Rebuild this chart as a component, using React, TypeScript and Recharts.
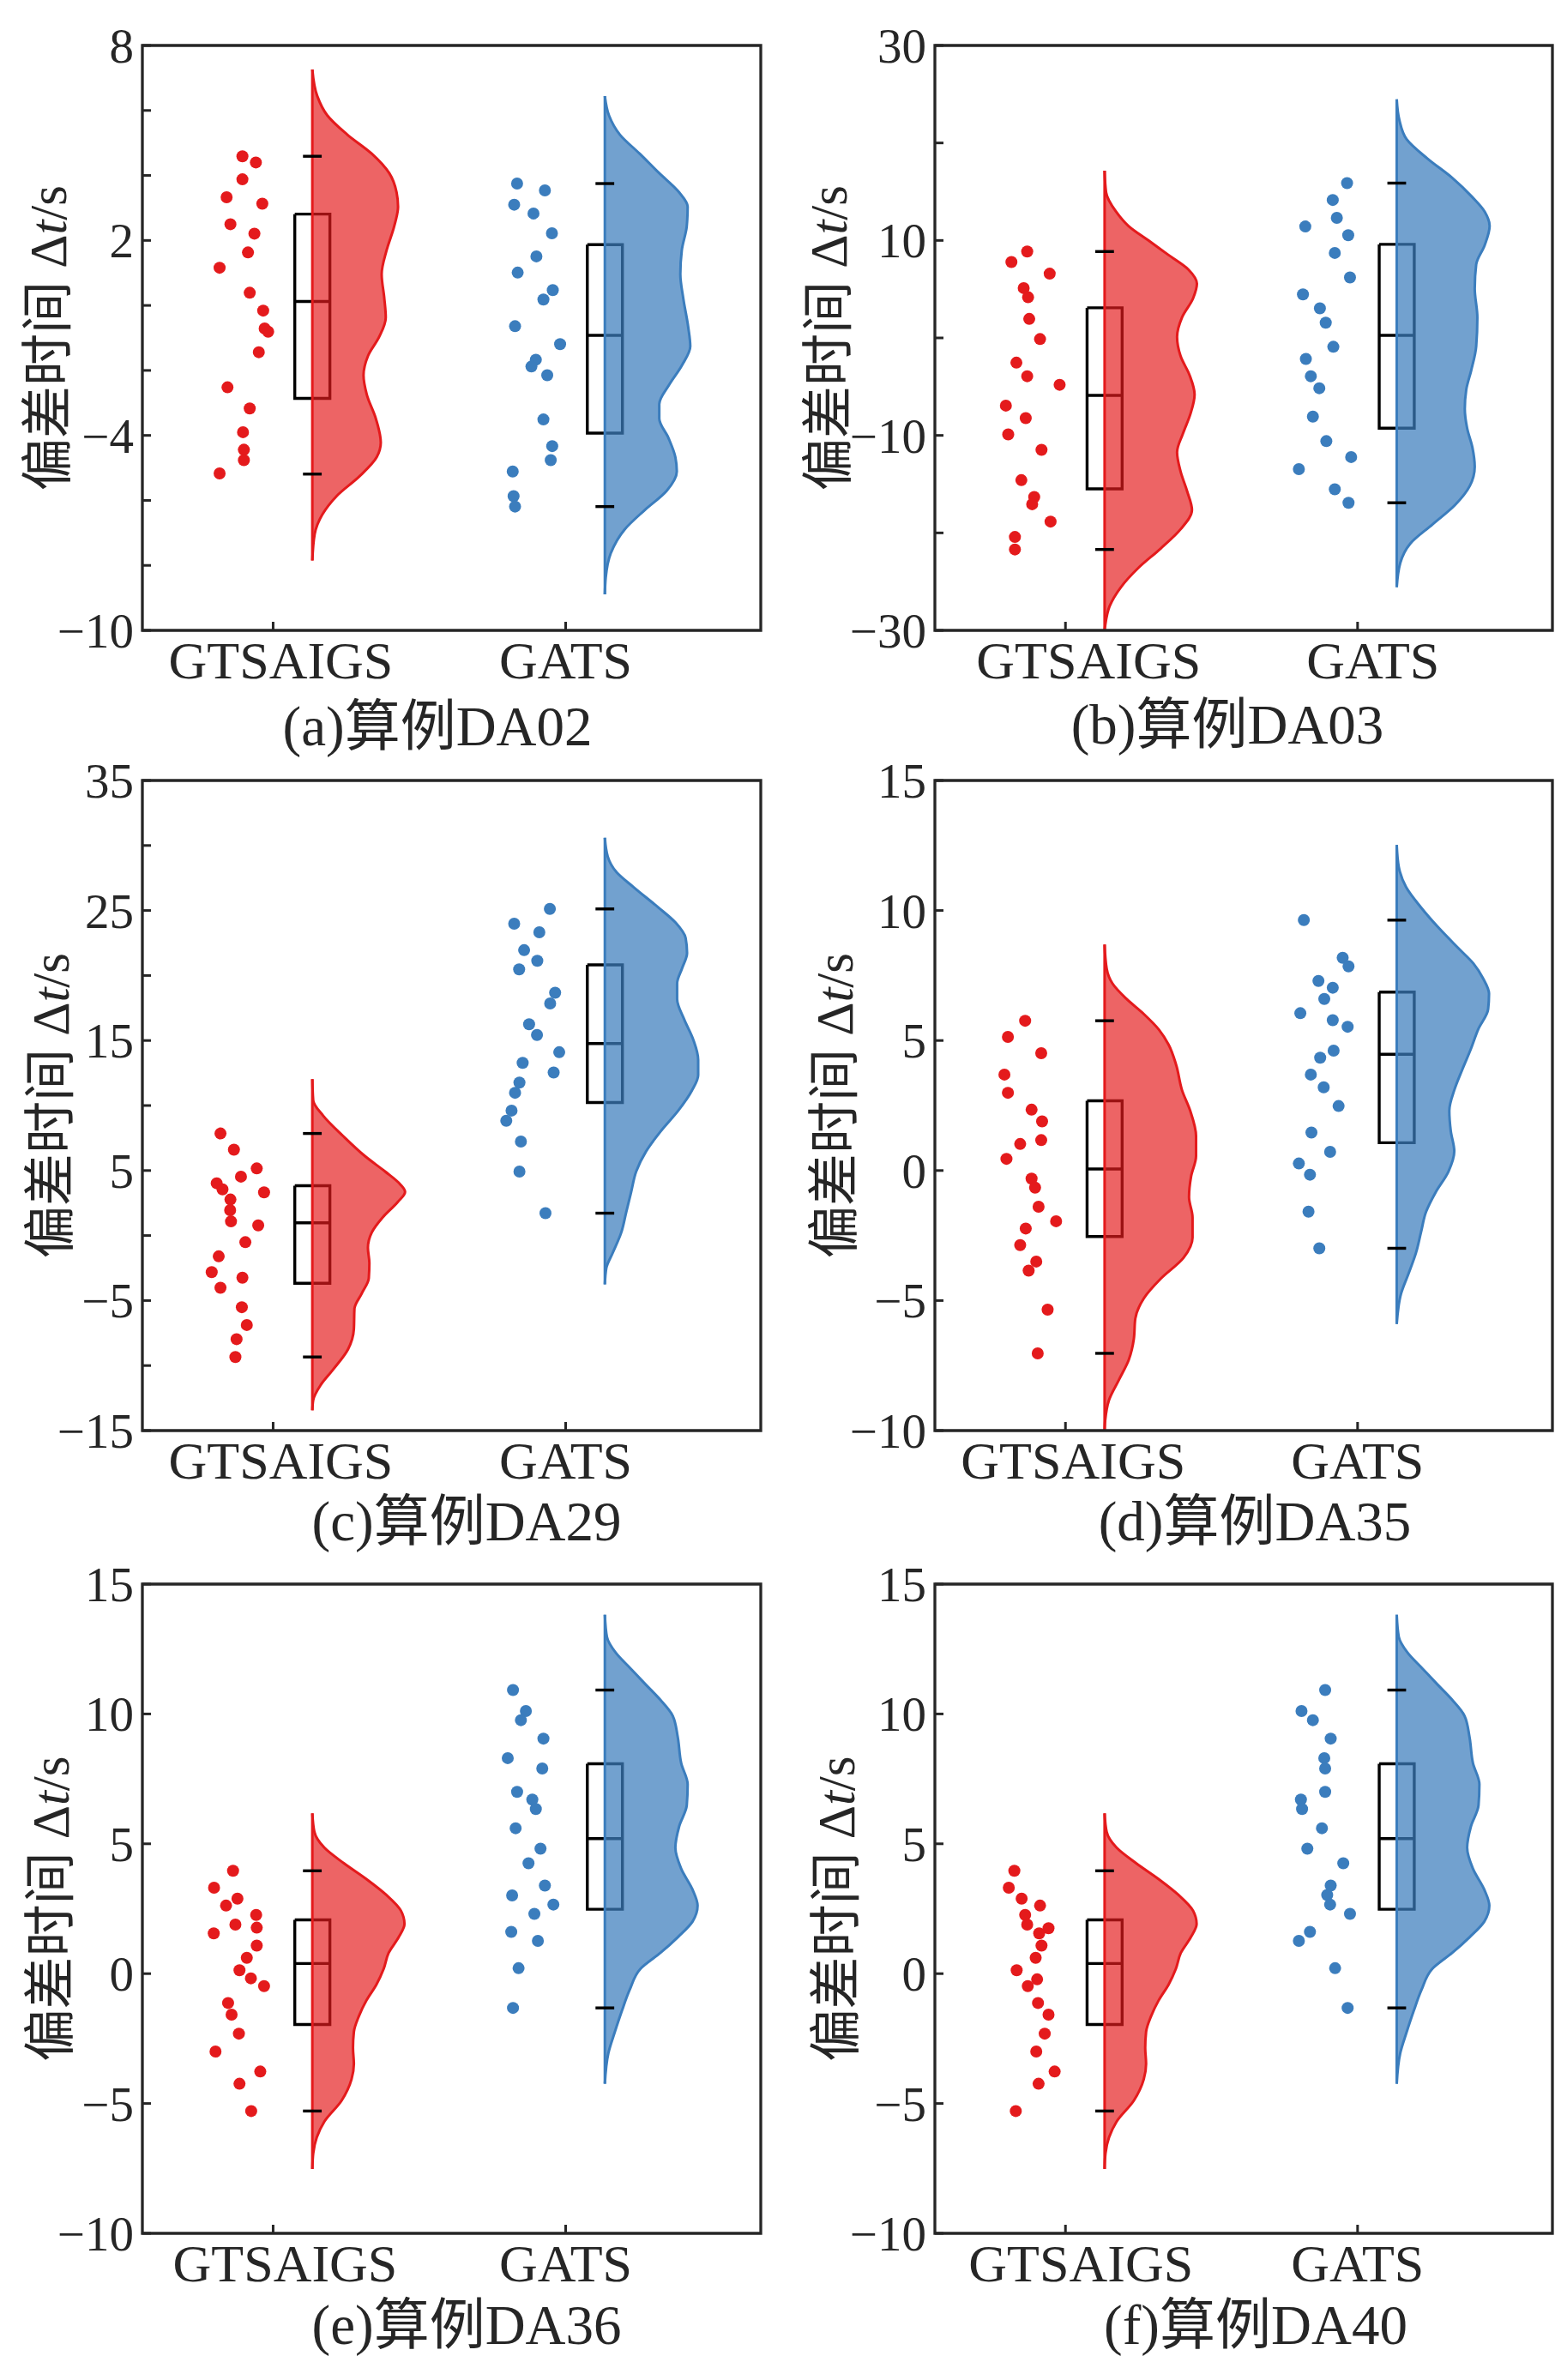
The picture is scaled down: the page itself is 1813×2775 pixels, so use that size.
import React from "react";
import { ComposedChart, XAxis, YAxis, Area, Line, Scatter, ReferenceArea } from "recharts";

const SERIF = "'Liberation Serif', 'Times New Roman', 'Noto Sans CJK SC', serif";
const RED = "#e41a1c";
const BLUE = "#3b7dbd";
const INK = "#262626";

const categories = ["GTSAIGS", "GATS"];
const yLabel = "偏差时间";

// (a) DA02
const aTicks = [-10, -8, -6, -4, -2, 0, 2, 4, 6, 8];
const aTickLabels = [-10, -4, 2, 8];
const aRedX = [0.895, 0.941, 0.895, 0.841, 0.963, 0.854, 0.936, 0.914, 0.817, 0.92, 0.966, 0.971, 0.983, 0.951, 0.844, 0.92, 0.897, 0.9, 0.9, 0.817];
const aRedY = [4.59, 4.4, 3.88, 3.33, 3.13, 2.5, 2.21, 1.63, 1.16, 0.39, -0.16, -0.71, -0.81, -1.44, -2.52, -3.17, -3.9, -4.44, -4.76, -5.17];
const aRedBox = [-5.19, -2.86, 0.12, 2.81, 4.59];
const aRedViolinY = [7.26, 6.44, 5.85, 5.26, 4.67, 4.07, 3.48, 3.04, 2.44, 1.7, 0.96, 0.22, -0.37, -0.96, -1.56, -2.15, -2.74, -3.48, -4.22, -4.67, -5.26, -5.85, -6.44, -7.04, -7.85];
const aRedViolinW = [0, 0.017, 0.051, 0.119, 0.203, 0.263, 0.288, 0.293, 0.28, 0.254, 0.237, 0.246, 0.251, 0.229, 0.19, 0.175, 0.186, 0.217, 0.234, 0.22, 0.161, 0.085, 0.034, 0.008, 0];
const aBlueX = [1.834, 1.929, 1.824, 1.89, 1.953, 1.9, 1.836, 1.956, 1.924, 1.827, 1.981, 1.898, 1.883, 1.937, 1.924, 1.954, 1.949, 1.819, 1.822, 1.827];
const aBlueY = [3.75, 3.54, 3.1, 2.83, 2.22, 1.51, 1.01, 0.47, 0.18, -0.64, -1.19, -1.67, -1.88, -2.15, -3.51, -4.33, -4.76, -5.11, -5.87, -6.19];
const aBlueBox = [-6.19, -3.93, -0.92, 1.87, 3.75];
const aBlueViolinY = [6.44, 5.85, 5.26, 4.67, 4.07, 3.48, 3.04, 2.44, 1.7, 0.96, 0.22, -0.67, -1.26, -1.85, -2.44, -3.04, -3.48, -4.07, -4.67, -5.11, -5.7, -6.3, -6.89, -7.63, -8.37, -8.89];
const aBlueViolinW = [0, 0.014, 0.051, 0.119, 0.186, 0.254, 0.283, 0.28, 0.263, 0.258, 0.268, 0.285, 0.292, 0.263, 0.22, 0.186, 0.186, 0.217, 0.241, 0.246, 0.212, 0.136, 0.068, 0.02, 0.003, 0];

// (b) DA03
const bTicks = [-30, -20, -10, 0, 10, 20, 30];
const bTickLabels = [-30, -10, 10, 30];
const bRedX = [0.869, 0.815, 0.946, 0.857, 0.872, 0.876, 0.913, 0.832, 0.869, 0.98, 0.796, 0.864, 0.804, 0.918, 0.849, 0.893, 0.886, 0.949, 0.827, 0.827];
const bRedY = [8.86, 7.78, 6.59, 5.11, 4.17, 1.95, -0.12, -2.54, -3.93, -4.81, -6.94, -8.22, -9.9, -11.48, -14.59, -16.32, -17.06, -18.84, -20.42, -21.7];
const bRedBox = [-21.7, -15.48, -5.9, 3.09, 8.86];
const bRedViolinY = [17.16, 14.94, 12.96, 11.48, 10.0, 8.52, 7.04, 5.56, 4.07, 2.1, 0.12, -1.85, -3.83, -5.8, -7.78, -9.75, -11.73, -13.7, -15.68, -17.65, -19.63, -21.6, -23.58, -25.56, -27.53, -29.51, -30];
const bRedViolinW = [0, 0.005, 0.039, 0.082, 0.15, 0.218, 0.286, 0.316, 0.303, 0.265, 0.248, 0.26, 0.291, 0.308, 0.294, 0.269, 0.248, 0.26, 0.282, 0.299, 0.26, 0.192, 0.116, 0.056, 0.017, 0.002, 0];
const bBlueX = [1.964, 1.915, 1.929, 1.821, 1.968, 1.922, 1.974, 1.813, 1.871, 1.891, 1.917, 1.823, 1.84, 1.869, 1.847, 1.893, 1.978, 1.799, 1.922, 1.969];
const bBlueY = [15.88, 14.15, 12.32, 11.43, 10.54, 8.72, 6.2, 4.47, 3.04, 1.56, -0.91, -2.15, -3.93, -5.16, -8.07, -10.59, -12.22, -13.46, -15.53, -16.91];
const bBlueBox = [-16.91, -9.26, 0.27, 9.6, 15.88];
const bBlueViolinY = [24.47, 22.35, 20.37, 18.4, 16.42, 14.44, 12.96, 11.48, 9.51, 7.53, 5.06, 2.1, -0.86, -3.33, -5.31, -7.28, -9.26, -11.23, -13.21, -15.19, -17.16, -19.14, -21.11, -23.09, -25.56];
const bBlueViolinW = [0, 0.009, 0.034, 0.105, 0.19, 0.259, 0.301, 0.318, 0.301, 0.272, 0.267, 0.276, 0.272, 0.255, 0.238, 0.233, 0.241, 0.259, 0.267, 0.25, 0.199, 0.122, 0.046, 0.012, 0];

// (c) DA29
const cTicks = [-15, -10, -5, 0, 5, 10, 15, 20, 25, 30, 35];
const cTickLabels = [-15, -5, 5, 15, 25, 35];
const cRedX = [0.82, 0.866, 0.944, 0.89, 0.807, 0.827, 0.969, 0.854, 0.853, 0.856, 0.949, 0.905, 0.814, 0.79, 0.895, 0.82, 0.893, 0.91, 0.875, 0.871];
const cRedY = [7.85, 6.6, 5.16, 4.53, 4.02, 3.55, 3.32, 2.77, 1.95, 1.09, 0.78, -0.51, -1.6, -2.81, -3.24, -4.02, -5.51, -6.88, -7.97, -9.34];
const cRedBox = [-9.34, -3.67, 0.98, 3.83, 7.85];
const cRedViolinY = [12.03, 10.39, 9.22, 7.66, 6.09, 4.92, 3.95, 3.36, 2.58, 1.41, 0.23, -0.94, -2.11, -3.28, -4.45, -5.63, -7.19, -8.75, -10.31, -11.48, -12.66, -13.44];
const cRedViolinW = [0, 0.003, 0.037, 0.105, 0.181, 0.249, 0.3, 0.317, 0.292, 0.241, 0.203, 0.19, 0.195, 0.193, 0.169, 0.144, 0.142, 0.122, 0.071, 0.029, 0.003, 0];
const cBlueX = [1.946, 1.824, 1.91, 1.858, 1.903, 1.841, 1.964, 1.947, 1.875, 1.902, 1.978, 1.853, 1.959, 1.842, 1.827, 1.815, 1.797, 1.847, 1.842, 1.931];
const cBlueY = [25.12, 23.98, 23.32, 21.95, 21.13, 20.47, 18.67, 17.85, 16.25, 15.43, 14.1, 13.28, 12.54, 11.76, 10.98, 9.61, 8.83, 7.23, 4.92, 1.72];
const cBlueBox = [1.72, 10.23, 14.77, 20.82, 25.12];
const cBlueViolinY = [30.59, 29.14, 27.97, 26.8, 25.23, 24.06, 22.89, 21.72, 20.55, 19.38, 18.2, 16.64, 15.08, 13.52, 12.34, 11.17, 9.61, 8.05, 6.48, 4.92, 3.36, 1.8, 0.23, -1.33, -2.5, -3.75];
const cBlueViolinW = [0, 0.01, 0.039, 0.098, 0.183, 0.242, 0.276, 0.281, 0.264, 0.247, 0.247, 0.271, 0.302, 0.319, 0.319, 0.298, 0.251, 0.192, 0.141, 0.107, 0.09, 0.073, 0.056, 0.027, 0.005, 0];

// (d) DA35
const dTicks = [-10, -5, 0, 5, 10, 15];
const dTickLabels = [-10, -5, 0, 5, 10, 15];
const dRedX = [0.862, 0.803, 0.917, 0.791, 0.803, 0.884, 0.92, 0.917, 0.845, 0.798, 0.884, 0.896, 0.908, 0.968, 0.864, 0.845, 0.9, 0.874, 0.939, 0.905];
const dRedY = [5.76, 5.14, 4.51, 3.69, 2.99, 2.34, 1.89, 1.17, 1.02, 0.45, -0.31, -0.66, -1.39, -1.95, -2.23, -2.87, -3.5, -3.85, -5.35, -7.03];
const dRedBox = [-7.03, -2.54, 0.06, 2.68, 5.76];
const dRedViolinY = [8.69, 7.77, 7.19, 6.6, 6.02, 5.43, 4.84, 4.06, 3.09, 2.3, 1.33, 0.55, -0.23, -1.02, -1.8, -2.58, -3.36, -4.14, -4.92, -5.7, -6.48, -7.27, -8.05, -8.83, -9.61, -10];
const dRedViolinW = [0, 0.007, 0.027, 0.075, 0.134, 0.185, 0.219, 0.245, 0.265, 0.293, 0.313, 0.313, 0.296, 0.289, 0.301, 0.301, 0.27, 0.194, 0.134, 0.105, 0.1, 0.083, 0.049, 0.015, 0.002, 0];
const dBlueX = [1.816, 1.949, 1.969, 1.866, 1.915, 1.886, 1.804, 1.915, 1.966, 1.918, 1.872, 1.84, 1.884, 1.935, 1.842, 1.906, 1.799, 1.837, 1.832, 1.869];
const dBlueY = [9.63, 8.18, 7.85, 7.29, 7.03, 6.6, 6.05, 5.78, 5.53, 4.61, 4.34, 3.69, 3.2, 2.48, 1.46, 0.72, 0.27, -0.16, -1.58, -2.99];
const dBlueBox = [-2.99, 1.07, 4.47, 6.86, 9.63];
const dBlueViolinY = [12.52, 11.68, 10.9, 10.12, 9.34, 8.55, 7.97, 7.38, 6.8, 6.21, 5.43, 4.65, 3.87, 3.09, 2.3, 1.52, 0.74, -0.04, -0.82, -1.6, -2.38, -3.16, -3.95, -4.73, -5.9];
const dBlueViolinW = [0, 0.007, 0.032, 0.083, 0.143, 0.211, 0.262, 0.296, 0.316, 0.313, 0.279, 0.253, 0.224, 0.197, 0.18, 0.185, 0.197, 0.177, 0.134, 0.1, 0.083, 0.066, 0.041, 0.015, 0];

// (e) DA36
const eTicks = [-10, -5, 0, 5, 10, 15];
const eTickLabels = [-10, -5, 0, 5, 10, 15];
const eRedX = [0.863, 0.798, 0.878, 0.839, 0.942, 0.871, 0.944, 0.797, 0.944, 0.91, 0.885, 0.924, 0.969, 0.846, 0.858, 0.883, 0.803, 0.956, 0.885, 0.925];
const eRedY = [3.96, 3.31, 2.89, 2.62, 2.26, 1.89, 1.77, 1.55, 1.08, 0.61, 0.13, -0.18, -0.48, -1.13, -1.58, -2.31, -3.0, -3.77, -4.24, -5.29];
const eRedBox = [-5.29, -1.96, 0.39, 2.07, 3.96];
const eRedViolinY = [6.17, 5.46, 4.85, 4.25, 3.64, 3.03, 2.42, 1.91, 1.4, 0.8, 0.19, -0.42, -1.03, -1.64, -2.24, -2.86, -3.47, -4.07, -4.89, -5.7, -6.31, -6.92, -7.52];
const eRedViolinW = [0, 0.007, 0.041, 0.108, 0.185, 0.253, 0.303, 0.315, 0.295, 0.261, 0.244, 0.219, 0.185, 0.159, 0.142, 0.139, 0.142, 0.134, 0.1, 0.041, 0.015, 0.003, 0];
const eBlueX = [1.82, 1.864, 1.847, 1.924, 1.802, 1.92, 1.834, 1.886, 1.898, 1.829, 1.914, 1.873, 1.929, 1.817, 1.958, 1.893, 1.814, 1.905, 1.839, 1.82];
const eBlueY = [10.92, 10.11, 9.76, 9.05, 8.3, 7.9, 7.0, 6.7, 6.34, 5.6, 4.81, 4.25, 3.39, 3.01, 2.66, 2.3, 1.61, 1.26, 0.21, -1.32];
const eBlueBox = [-1.32, 2.48, 5.2, 8.08, 10.92];
const eBlueViolinY = [13.82, 12.97, 12.36, 11.75, 11.14, 10.54, 9.93, 9.12, 8.1, 7.29, 6.48, 5.67, 4.85, 4.04, 3.23, 2.62, 2.01, 1.4, 0.8, 0.19, -0.62, -1.44, -2.25, -3.06, -4.24];
const eBlueViolinW = [0, 0.007, 0.037, 0.088, 0.139, 0.19, 0.232, 0.249, 0.261, 0.283, 0.28, 0.254, 0.241, 0.261, 0.3, 0.317, 0.3, 0.249, 0.19, 0.122, 0.085, 0.058, 0.034, 0.012, 0];

// (f) DA40
const fTicks = [-10, -5, 0, 5, 10, 15];
const fTickLabels = [-10, -5, 0, 5, 10, 15];
const fRedX = [0.825, 0.806, 0.85, 0.913, 0.862, 0.869, 0.942, 0.91, 0.918, 0.898, 0.833, 0.903, 0.871, 0.906, 0.942, 0.929, 0.9, 0.963, 0.908, 0.83];
const fRedY = [3.96, 3.31, 2.89, 2.62, 2.26, 1.89, 1.75, 1.55, 1.08, 0.61, 0.13, -0.22, -0.48, -1.13, -1.58, -2.31, -3.0, -3.77, -4.24, -5.29];
const fRedBox = [-5.29, -1.96, 0.39, 2.07, 3.96];
const fRedViolinY = [6.17, 5.46, 4.85, 4.25, 3.64, 3.03, 2.42, 1.91, 1.4, 0.8, 0.19, -0.42, -1.03, -1.64, -2.24, -2.86, -3.47, -4.07, -4.89, -5.7, -6.31, -6.92, -7.52];
const fRedViolinW = [0, 0.007, 0.041, 0.108, 0.185, 0.253, 0.303, 0.315, 0.295, 0.261, 0.244, 0.219, 0.185, 0.159, 0.142, 0.139, 0.142, 0.134, 0.1, 0.041, 0.015, 0.003, 0];
const fBlueX = [1.889, 1.808, 1.847, 1.908, 1.886, 1.889, 1.889, 1.806, 1.81, 1.878, 1.828, 1.951, 1.908, 1.896, 1.906, 1.974, 1.837, 1.799, 1.923, 1.966];
const fBlueY = [10.92, 10.11, 9.76, 9.05, 8.3, 7.9, 7.0, 6.7, 6.34, 5.6, 4.81, 4.25, 3.39, 3.03, 2.66, 2.3, 1.61, 1.26, 0.21, -1.32];
const fBlueBox = [-1.32, 2.48, 5.2, 8.08, 10.92];
const fBlueViolinY = [13.82, 12.97, 12.36, 11.75, 11.14, 10.54, 9.93, 9.12, 8.1, 7.29, 6.48, 5.67, 4.85, 4.04, 3.23, 2.62, 2.01, 1.4, 0.8, 0.19, -0.62, -1.44, -2.25, -3.06, -4.24];
const fBlueViolinW = [0, 0.007, 0.037, 0.088, 0.139, 0.19, 0.232, 0.249, 0.261, 0.283, 0.28, 0.254, 0.241, 0.261, 0.3, 0.317, 0.3, 0.249, 0.19, 0.122, 0.085, 0.058, 0.034, 0.012, 0];

// layout
const X_DOMAIN = [0.553, 2.667];
const OFFSET = 0.134; // violin spine sits right of the category tick
const BOX_HALF = 0.06;
const CAP_HALF = 0.032;
const AXIS_W = 150;
const AXIS_H = 100;
const PAD_T = 40;
const PAD_R = 10;

const panels = [
  { key: "a", title: "(a)算例DA02", left: 166, top: 53, width: 721, height: 682, domain: [-10, 8], ticks: aTicks, labels: aTickLabels,
    red: [aRedX, aRedY, aRedBox, aRedViolinY, aRedViolinW], blue: [aBlueX, aBlueY, aBlueBox, aBlueViolinY, aBlueViolinW],
    titleX: 510, titleY: 869, yLabelGap: 110, catDx: [9, 0] },
  { key: "b", title: "(b)算例DA03", left: 1090, top: 53, width: 720, height: 682, domain: [-30, 30], ticks: bTicks, labels: bTickLabels,
    red: [bRedX, bRedY, bRedBox, bRedViolinY, bRedViolinW], blue: [bBlueX, bBlueY, bBlueBox, bBlueViolinY, bBlueViolinW],
    titleX: 1431, titleY: 867, yLabelGap: 124, catDx: [27, 18] },
  { key: "c", title: "(c)算例DA29", left: 166, top: 910, width: 721, height: 758, domain: [-15, 35], ticks: cTicks, labels: cTickLabels,
    red: [cRedX, cRedY, cRedBox, cRedViolinY, cRedViolinW], blue: [cBlueX, cBlueY, cBlueBox, cBlueViolinY, cBlueViolinW],
    titleX: 544, titleY: 1796, yLabelGap: 107, catDx: [9, 0] },
  { key: "d", title: "(d)算例DA35", left: 1090, top: 910, width: 720, height: 758, domain: [-10, 15], ticks: dTicks, labels: dTickLabels,
    red: [dRedX, dRedY, dRedBox, dRedViolinY, dRedViolinW], blue: [dBlueX, dBlueY, dBlueBox, dBlueViolinY, dBlueViolinW],
    titleX: 1463, titleY: 1796, yLabelGap: 117, catDx: [9, 0] },
  { key: "e", title: "(e)算例DA36", left: 166, top: 1847, width: 721, height: 757, domain: [-10, 15], ticks: eTicks, labels: eTickLabels,
    red: [eRedX, eRedY, eRedBox, eRedViolinY, eRedViolinW], blue: [eBlueX, eBlueY, eBlueBox, eBlueViolinY, eBlueViolinW],
    titleX: 544, titleY: 2733, yLabelGap: 107, catDx: [14, 0] },
  { key: "f", title: "(f)算例DA40", left: 1090, top: 1847, width: 720, height: 757, domain: [-10, 15], ticks: fTicks, labels: fTickLabels,
    red: [fRedX, fRedY, fRedBox, fRedViolinY, fRedViolinW], blue: [fBlueX, fBlueY, fBlueBox, fBlueViolinY, fBlueViolinW],
    titleX: 1464, titleY: 2733, yLabelGap: 115, catDx: [18, 0] },
];

const fmt = (v: number) => String(v).replace("-", "\u2212");

function YTick(props: any) {
  const { x, y, payload, labels } = props;
  const v = payload.value;
  return (
    <g>
      <line x1={x} x2={x + 10} y1={y} y2={y} stroke={INK} strokeWidth={3} />
      {labels.includes(v) && (
        <text x={x - 10} y={y} dy="0.35em" textAnchor="end" fontFamily={SERIF} fontSize={57} fill={INK}>
          {fmt(v)}
        </text>
      )}
    </g>
  );
}

function XTick(props: any) {
  const { x, y, payload, catDx } = props;
  const i = payload.value - 1;
  return (
    <g>
      <line x1={x} x2={x} y1={y} y2={y - 10} stroke={INK} strokeWidth={3} />
      <text x={x + catDx[i]} y={y + 56} textAnchor="middle" fontFamily={SERIF} fontSize={62} fill={INK}>
        {categories[i]}
      </text>
    </g>
  );
}

// one cloud: dots, box and half violin for one algorithm
function groupSeries(id: string, cat: number, group: any[], color: string, alpha: number) {
  const [xs, ys, box, vy, vw] = group;
  const base = cat + OFFSET;
  const x0 = base - BOX_HALF;
  const x1 = base + BOX_HALF;
  const dots = xs.map((x: number, i: number) => ({ x, y: ys[i] }));
  const violin = vy.map((y: number, i: number) => ({ y, x: base + vw[i] }));
  const spine = [{ y: vy[0], x: base }, { y: vy[vy.length - 1], x: base }];
  const boxFill = [{ y: box[3], x: x1 }, { y: box[1], x: x1 }];
  const boxLine = [
    { y: box[3], x: x0 }, { y: box[3], x: x1 }, { y: box[1], x: x1 }, { y: box[1], x: x0 }, { y: box[3], x: x0 },
  ];
  const median = [{ y: box[2], x: x0 }, { y: box[2], x: x1 }];
  const capHi = [{ y: box[4], x: base - CAP_HALF }, { y: box[4], x: base + CAP_HALF }];
  const capLo = [{ y: box[0], x: base - CAP_HALF }, { y: box[0], x: base + CAP_HALF }];
  const lineProps = { dataKey: "x", type: "linear" as const, dot: false, activeDot: false, isAnimationActive: false };
  return [
    <Area key={id + "bf"} data={boxFill} dataKey="x" baseValue={x0} type="linear" fill="#ffffff" fillOpacity={1} stroke="none" dot={false} activeDot={false} isAnimationActive={false} zIndex={100} />,
    <Line key={id + "bl"} data={boxLine} {...lineProps} stroke="#000" strokeWidth={3.4} strokeLinejoin="miter" zIndex={110} />,
    <Line key={id + "md"} data={median} {...lineProps} stroke="#000" strokeWidth={3.4} zIndex={110} />,
    <Area key={id + "vi"} data={violin} dataKey="x" baseValue={base} type="monotone" fill={color} fillOpacity={alpha} stroke={color} strokeWidth={3} dot={false} activeDot={false} isAnimationActive={false} zIndex={120} />,
    <Line key={id + "sp"} data={spine} {...lineProps} stroke={color} strokeWidth={3} zIndex={130} />,
    <Line key={id + "ch"} data={capHi} {...lineProps} stroke="#000" strokeWidth={3.4} zIndex={140} />,
    <Line key={id + "cl"} data={capLo} {...lineProps} stroke="#000" strokeWidth={3.4} zIndex={140} />,
    <Scatter key={id + "dt"} data={dots} dataKey="x" fill={color} isAnimationActive={false} zIndex={150}
      shape={(s: any) => <circle cx={s.cx} cy={s.cy} r={7} fill={color} />} />,
  ];
}

function Panel({ p }: { p: any }) {
  const W = AXIS_W + p.width + PAD_R;
  const H = PAD_T + p.height + AXIS_H;
  return (
    <div style={{ position: "absolute", left: p.left - AXIS_W, top: p.top - PAD_T }}>
      <ComposedChart width={W} height={H} layout="vertical" margin={{ top: PAD_T, right: PAD_R, bottom: 0, left: 0 }}>
        <XAxis type="number" dataKey="x" domain={X_DOMAIN} allowDataOverflow ticks={[1, 2]} interval={0}
          height={AXIS_H} tickSize={0} tickMargin={0} axisLine={false} tickLine={false}
          tick={(t: any) => <XTick {...t} catDx={p.catDx} />} />
        <YAxis type="number" dataKey="y" domain={p.domain} allowDataOverflow ticks={p.ticks} interval={0} reversed
          width={AXIS_W} tickSize={0} tickMargin={0} axisLine={false} tickLine={false}
          tick={(t: any) => <YTick {...t} labels={p.labels} />} />
        {groupSeries(p.key + "r", 1, p.red, RED, 0.68)}
        {groupSeries(p.key + "b", 2, p.blue, BLUE, 0.72)}
        <ReferenceArea x1={X_DOMAIN[0]} x2={X_DOMAIN[1]} y1={p.domain[0]} y2={p.domain[1]}
          fill="none" fillOpacity={0} stroke={INK} strokeWidth={3.3} ifOverflow="visible" zIndex={160} />
      </ComposedChart>
    </div>
  );
}

export default function App() {
  return (
    <div style={{ position: "absolute", left: 0, top: 0, width: 1813, height: 2775, background: "#ffffff" }}>
      {panels.map((p) => (
        <Panel key={p.key} p={p} />
      ))}
      <svg width={1813} height={2775} style={{ position: "absolute", left: 0, top: 0, pointerEvents: "none" }}>
        {panels.map((p) => (
          <g key={p.key}>
            <text x={p.titleX} y={p.titleY} textAnchor="middle" fontFamily={SERIF} fontSize={65} fill={INK}>
              {p.title}
            </text>
            <text transform={`translate(${p.left - p.yLabelGap}, ${p.top + p.height / 2}) rotate(-90)`}
              textAnchor="middle" dominantBaseline="central" fontFamily={SERIF} fontSize={61} fill={INK}>
              {yLabel} Δ<tspan fontStyle="italic">t</tspan>/s
            </text>
          </g>
        ))}
      </svg>
    </div>
  );
}
